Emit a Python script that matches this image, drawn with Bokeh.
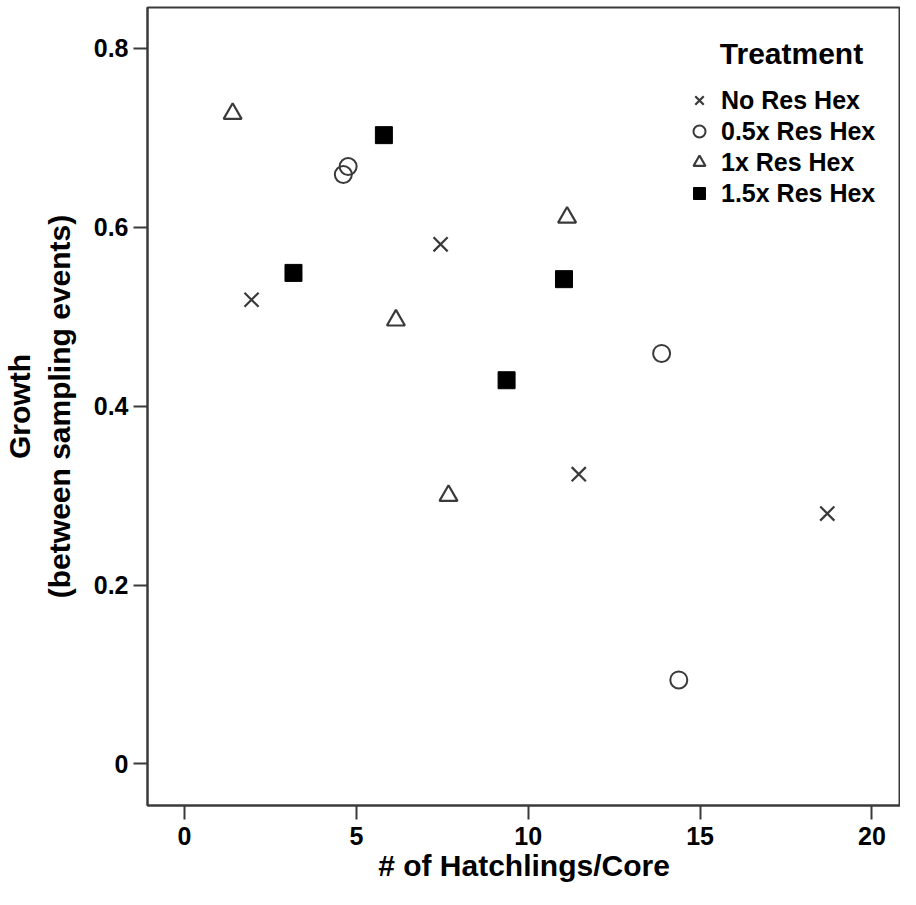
from bokeh.plotting import figure
from bokeh.models import Range1d, FixedTicker, Legend, LegendItem, Label
from bokeh.embed import file_html
from bokeh.resources import INLINE

# Data
no_x = [1.95, 7.45, 11.47, 18.70]
no_y = [0.519, 0.581, 0.324, 0.280]
half_x = [4.62, 4.76, 13.88, 14.38]
half_y = [0.659, 0.668, 0.459, 0.094]
one_x = [1.40, 6.15, 7.68, 11.13]
one_y = [0.727, 0.496, 0.300, 0.611]
onehalf_x = [5.80, 3.17, 9.37, 11.04]
onehalf_y = [0.703, 0.549, 0.429, 0.542]

series_labels = ["No Res Hex", "0.5x Res Hex", "1x Res Hex", "1.5x Res Hex"]
legend_title = "Treatment"
x_ticks = [0, 5, 10, 15, 20]
y_ticks = [0, 0.2, 0.4, 0.6, 0.8]
y_tick_labels = {0: "0", 0.2: "0.2", 0.4: "0.4", 0.6: "0.6", 0.8: "0.8"}

FONT = "Liberation Sans"
DARK = "#3a3a3a"

p = figure(width=900, height=889, output_backend="svg", toolbar_location=None,
           x_range=Range1d(-1.077, 20.83), y_range=Range1d(-0.0464, 0.8457),
           min_border_left=143, min_border_right=0, min_border_top=7, min_border_bottom=84)

p.xgrid.visible = False
p.ygrid.visible = False
p.outline_line_color = DARK
p.outline_line_width = 2
p.background_fill_color = "white"

for ax in (p.xaxis[0], p.yaxis[0]):
    ax.axis_line_color = DARK
    ax.axis_line_width = 2
    ax.major_tick_line_color = DARK
    ax.major_tick_line_width = 2
    ax.major_tick_out = 14
    ax.major_tick_in = 0
    ax.minor_tick_line_color = None
    ax.major_label_text_font = FONT
    ax.major_label_text_font_style = "bold"
    ax.major_label_text_font_size = "25px"
    ax.major_label_text_color = "black"
    ax.axis_label_text_font = FONT
    ax.axis_label_text_font_style = "bold"
    ax.axis_label_text_font_size = "30px"
    ax.axis_label_text_color = "black"

p.xaxis.ticker = FixedTicker(ticks=x_ticks)
p.yaxis.ticker = FixedTicker(ticks=y_ticks)
p.yaxis.major_label_overrides = y_tick_labels
p.xaxis.major_label_standoff = 7
p.yaxis.major_label_standoff = 5
p.xaxis.axis_label = "# of Hatchlings/Core"
p.xaxis.axis_label_standoff = 1
p.yaxis.axis_label = "Growth\n(between sampling events)"
p.yaxis.axis_label_standoff = 15

r1 = p.scatter(no_x, no_y, marker="x", size=20, line_color=DARK, line_width=2.2)
r2 = p.scatter(half_x, half_y, marker="circle", size=17, fill_color=None,
               line_color=DARK, line_width=2)
r3 = p.scatter(one_x, one_y, marker="triangle", size=18, fill_color=None,
               line_color=DARK, line_width=2.2)
r4 = p.scatter(onehalf_x, onehalf_y, marker="square", size=17, fill_color="black",
               line_color="black", line_width=1)

legend = Legend(items=[
    LegendItem(label=series_labels[0], renderers=[r1]),
    LegendItem(label=series_labels[1], renderers=[r2]),
    LegendItem(label=series_labels[2], renderers=[r3]),
    LegendItem(label=series_labels[3], renderers=[r4]),
], location=(537, 597))
legend.border_line_color = None
legend.background_fill_alpha = 0
legend.margin = 0
legend.padding = 5
legend.spacing = 1
legend.glyph_width = 30
legend.glyph_height = 30
legend.label_height = 30
legend.label_standoff = 7
legend.label_text_font = FONT
legend.label_text_font_style = "bold"
legend.label_text_font_size = "25px"
legend.label_text_color = "black"
legend.label_text_baseline = "middle"
p.add_layout(legend)

title = Label(x=644, y=752, x_units="screen", y_units="screen", text=legend_title,
              text_align="center", text_baseline="middle", text_font=FONT,
              text_font_style="bold", text_font_size="30px", text_color="black")
p.add_layout(title)

open("out.html", "w").write(file_html(p, INLINE))
